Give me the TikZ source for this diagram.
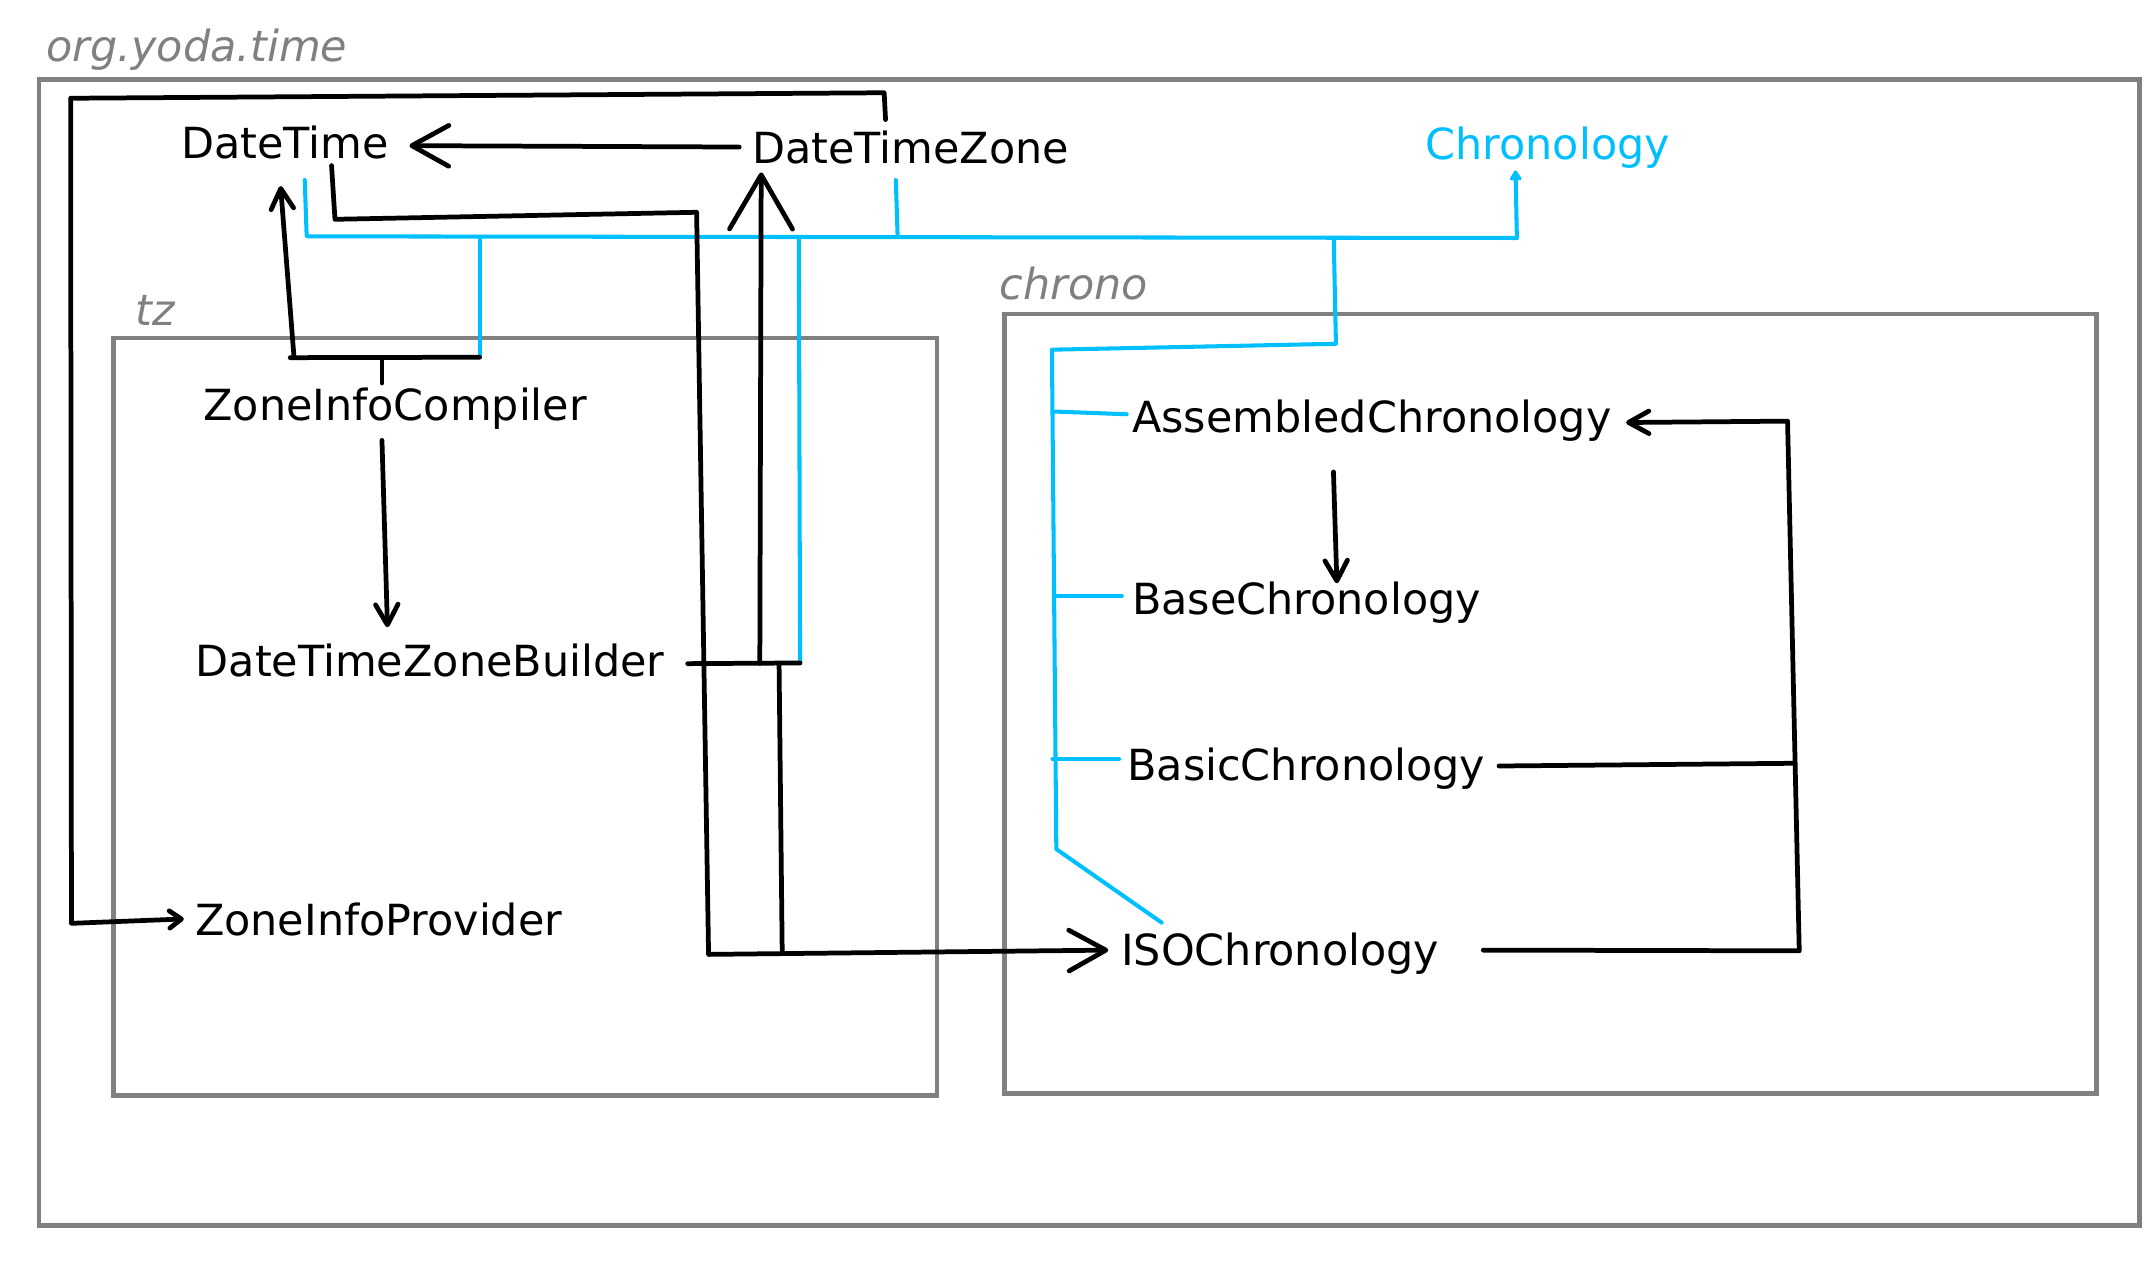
\documentclass[tikz,border=0pt]{standalone}
\usepackage{fontspec}
\setmainfont{DejaVu Sans}
\usetikzlibrary{arrows.meta}
\definecolor{pkggray}{HTML}{808080}
\definecolor{inhblue}{HTML}{00BFFF}
\begin{document}
\begin{tikzpicture}[x=0.01374cm,y=-0.01374cm,
  txt/.style={inner sep=0pt, anchor=base west, font=\fontsize{12.2pt}{14pt}\selectfont},
  cls/.style={txt, text=black},
  pkg/.style={txt, text=pkggray, font=\fontsize{12.2pt}{14pt}\selectfont\itshape},
  frame/.style={draw=pkggray, line width=1.3pt},
  dep/.style={draw=black, line width=1.35pt, line cap=round, line join=round},
  inh/.style={draw=inhblue, line width=1.15pt, line cap=round, line join=round},
  bigtip/.style={-{Straight Barb[length=10.5pt,width=11.6pt,round]}},
  hugetip/.style={-{Straight Barb[length=15.4pt,width=17.9pt,round]}},
  midtip/.style={-{Straight Barb[length=5.8pt,width=6.4pt,round]}},
  smalltip/.style={-{Straight Barb[length=3.4pt,width=4.9pt,round]}},
  blutip/.style={-{Triangle[length=3.2pt,width=3.8pt,round]}}
]
\useasboundingbox (0,0) rectangle (1564.8,928.7);

% package frames
\draw[frame] (28.5,58) rectangle (1557,892);
\draw[frame] (82.4,246) rectangle (682,797.5);
\draw[frame] (731,228.4) rectangle (1526,796);
\node[pkg] (lorg) at (33.5,44.8) {org.yoda.time};
\node[pkg] (ltz) at (98,237) {tz};
\node[pkg] (lchrono) at (727,217.7) {chrono};

% classes
\node[cls] (dt) at (131.5,115) {DateTime};
\node[cls] (dtz) at (547,119) {DateTimeZone};
\node[txt, text=inhblue] (chr) at (1037,116) {Chronology};
\node[cls] (zic) at (147.5,306) {ZoneInfoCompiler};
\node[cls] (dtzb) at (142,492) {DateTimeZoneBuilder};
\node[cls] (zip) at (141.5,681) {ZoneInfoProvider};
\node[cls] (asc) at (823.5,315) {AssembledChronology};
\node[cls] (bsc) at (823.5,447) {BaseChronology};
\node[cls] (bac) at (820,568) {BasicChronology};
\node[cls] (iso) at (815.5,703) {ISOChronology};

% connection points
\coordinate (dtzTop) at (644.5,87);
\coordinate (a1) at (643.5,67.5);
\coordinate (a2) at (51.4,71.5);
\coordinate (a3) at (52,672);
\coordinate (zipIn) at (133.8,668.8);

\coordinate (dtzLeft) at (538,107);
\coordinate (dtRight) at (298,106);

\coordinate (dtBot) at (241.3,120.5);
\coordinate (c1) at (243.8,159.6);
\coordinate (c2) at (507,154.5);
\coordinate (c3) at (515.7,694.6);
\coordinate (c4) at (569.3,693.4);
\coordinate (isoIn) at (806.6,691.5);

\coordinate (zicTop) at (278,278.8);
\coordinate (zj) at (278,260);
\coordinate (zl) at (211.2,260.3);
\coordinate (zdt) at (214,260.3);
\coordinate (zr) at (349,260);
\coordinate (dtIn) at (204.2,135.4);
\coordinate (zicBot) at (278,320.5);
\coordinate (dtzbIn) at (282,456.5);

\coordinate (bl) at (500.5,483);
\coordinate (br) at (582.3,482.5);
\coordinate (bj) at (553,482.8);
\coordinate (bk) at (567,482.7);
\coordinate (dtzIn) at (554,125.5);

% blue inheritance bus
\coordinate (dtBlue) at (221.8,131);
\coordinate (busL) at (223.2,172);
\coordinate (busR) at (1104,173.2);
\coordinate (chrIn) at (1103,124);
\coordinate (dtzBlue) at (652,131);
\coordinate (dtzBus) at (653.3,172.5);
\coordinate (zicBus) at (349,172.6);
\coordinate (dtzbBus) at (581.4,172.9);
\coordinate (chBus) at (970.7,173.8);
\coordinate (ch1) at (972.3,250.2);
\coordinate (ch2) at (765.6,254.5);
\coordinate (ch3) at (768.8,618);
\coordinate (isoBlue) at (845.5,671.5);
\coordinate (ascStubL) at (767.5,299.5);
\coordinate (ascStub) at (820,301.5);
\coordinate (bscStubL) at (768.3,433.5);
\coordinate (bscStub) at (816.5,433.5);
\coordinate (bacStubL) at (766,552.5);
\coordinate (bacStub) at (814.5,552.5);

\coordinate (ascBot) at (970.5,343.5);
\coordinate (bscIn) at (973,424.5);

\coordinate (isoR) at (1079.5,691.5);
\coordinate (i1) at (1309.5,692);
\coordinate (i2) at (1301,306.5);
\coordinate (ascIn) at (1183.5,307.5);
\coordinate (bacR) at (1091,557.5);
\coordinate (bacJ) at (1306.5,555.5);

% blue lines
\draw[inh] (dtBlue) -- (busL) -- (busR);
\draw[inh, blutip] (busR) -- (chrIn);
\draw[inh] (dtzBlue) -- (dtzBus);
\draw[inh] (zr) -- (zicBus);
\draw[inh] (br) -- (dtzbBus);
\draw[inh] (chBus) -- (ch1) -- (ch2) -- (ch3) -- (isoBlue);
\draw[inh] (ascStubL) -- (ascStub);
\draw[inh] (bscStubL) -- (bscStub);
\draw[inh] (bacStubL) -- (bacStub);

% black dependency lines
\draw[dep, smalltip] (dtzTop) -- (a1) -- (a2) -- (a3) -- (zipIn);
\draw[dep, bigtip] (dtzLeft) -- (dtRight);
\draw[dep, bigtip] (dtBot) -- (c1) -- (c2) -- (c3) -- (isoIn);
\draw[dep] (zicTop) -- (zj);
\draw[dep] (zl) -- (zr);
\draw[dep, midtip] (zdt) -- (dtIn);
\draw[dep, midtip] (zicBot) -- (dtzbIn);
\draw[dep] (bl) -- (br);
\draw[dep, hugetip] (bj) -- (dtzIn);
\draw[dep] (bk) -- (c4);
\draw[dep, midtip] (ascBot) -- (bscIn);
\draw[dep, midtip] (isoR) -- (i1) -- (i2) -- (ascIn);
\draw[dep] (bacR) -- (bacJ);
\end{tikzpicture}
\end{document}
